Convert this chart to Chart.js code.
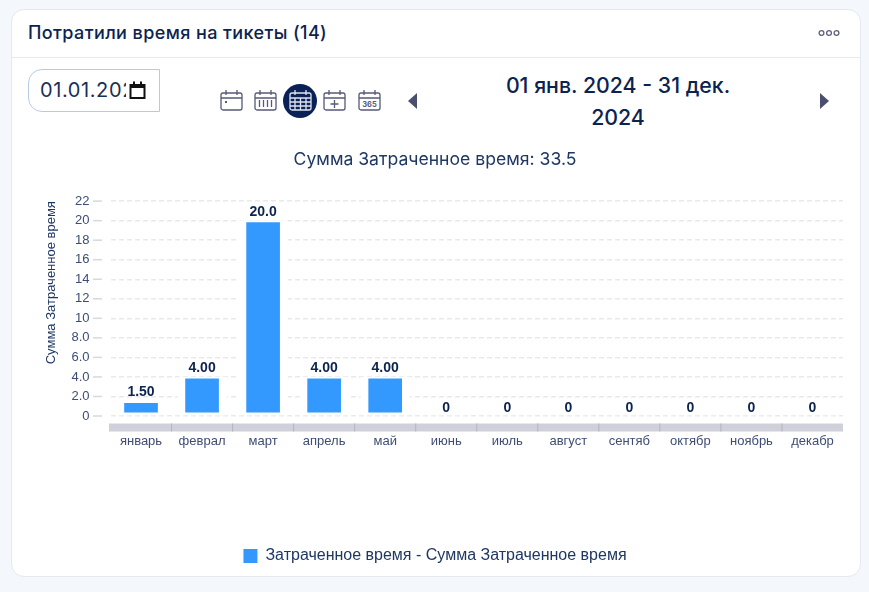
<!DOCTYPE html>
<html lang="ru"><head><meta charset="utf-8">
<script src="https://cdn.jsdelivr.net/npm/chart.js@4"></script>
<style>
html,body{margin:0;padding:0;width:869px;height:592px;overflow:hidden;background:#f4f8fd;font-family:Inter,sans-serif;color:#0c2350}
#card{position:absolute;left:11px;top:9px;width:848px;height:566px;background:#fff;border:1.5px solid #e3e8f1;border-radius:13px}
#head{position:absolute;left:28px;top:22px;font:500 18px/22px Inter;letter-spacing:.4px;color:#0c2350;white-space:nowrap}
#rule{position:absolute;left:12px;top:57px;width:848px;height:1px;background:#e6e9f1}
#dots{position:absolute;left:816px;top:29px}
#date{position:absolute;left:28px;top:69px;width:130px;height:41px;box-sizing:content-box;border:1px solid #b4cbe5;border-radius:14px 0 0 14px;background:#fff}
#date span{position:absolute;left:11px;top:8px;width:86px;overflow:hidden;white-space:nowrap;font:400 20px/24px Inter;letter-spacing:.6px;color:#1b2f55}
#date svg{position:absolute;left:100px;top:10px}
.ic{position:absolute;top:89px}
#circle{position:absolute;left:283px;top:84px;width:34px;height:34px;border-radius:50%;background:#0a2156}
#range{position:absolute;left:430px;top:69px;width:376px;text-align:center;font:500 21.3px/32px Inter;color:#0c2350}
.ar{position:absolute;top:93px}
canvas{position:absolute;left:27px;top:140px}
</style></head><body>
<div id="card"></div>
<div id="head">Потратили время на тикеты (14)</div>
<div id="rule"></div>
<svg id="dots" width="26" height="8" fill="none" stroke="#5b6080" stroke-width="1.3"><circle cx="5.500" cy="4" r="2.400"/><circle cx="13" cy="4" r="2.400"/><circle cx="20.500" cy="4" r="2.400"/></svg>
<div id="date"><span>01.01.2024</span><svg width="18" height="20" viewBox="0 0 18 20"><path d="M1.5 5h14v13h-14z" fill="none" stroke="#111" stroke-width="2"/><rect x="1" y="4" width="15" height="4" fill="#111"/><rect x="4" y="1.5" width="2" height="3" fill="#111"/><rect x="11" y="1.5" width="2" height="3" fill="#111"/></svg></div>
<svg class="ic" style="left:220px" width="24" height="24" fill="none" stroke="#555a78" stroke-width="1.3"><rect x="1" y="4" width="21" height="17" rx="2"/><path d="M1 9h21M6 1v5M17 1v5"/><rect x="5" y="12" width="2" height="2" fill="#555a78" stroke="none"/></svg>
<svg class="ic" style="left:254px" width="24" height="24" fill="none" stroke="#555a78" stroke-width="1.3"><rect x="1" y="4" width="21" height="17" rx="2"/><path d="M1 9h21M6 1v5M17 1v5M5.500 11v7M9.500 11v7M13.500 11v7M17.500 11v7"/></svg>
<div id="circle"></div>
<svg class="ic" style="left:289px" width="24" height="24" fill="none" stroke="#dfe4f0" stroke-width="1.300"><rect x="1" y="4" width="21" height="17" rx="2"/><path d="M1 9h21M6 1v5M17 1v5M1 13h21M1 17h21M6 9v12M11.500 9v12M17 9v12"/></svg>
<svg class="ic" style="left:323px" width="24" height="24" fill="none" stroke="#555a78" stroke-width="1.3"><rect x="1" y="4" width="21" height="17" rx="2"/><path d="M1 9h21M6 1v5M17 1v5M11.500 11v8M7.500 15h8"/></svg>
<svg class="ic" style="left:358px" width="24" height="24" fill="none" stroke="#555a78" stroke-width="1.3"><rect x="1" y="4" width="21" height="17" rx="2"/><path d="M1 9h21M6 1v5M17 1v5"/><text x="11.500" y="18" text-anchor="middle" font-family="Inter" font-size="7.500" font-weight="700" fill="#555a78" stroke="none">365</text></svg>
<svg class="ar" style="left:408px" width="10" height="16"><path d="M9 0v16L0 8z" fill="#4a4f70"/></svg>
<div id="range">01 янв. 2024 - 31 дек.<br>2024</div>
<svg class="ar" style="left:820px" width="10" height="16"><path d="M0 0v16l9-8z" fill="#4a4f70"/></svg>
<canvas id="c" width="833" height="434"></canvas>
<script>
const months = ['январь','феврал','март','апрель','май','июнь','июль','август','сентяб','октябр','ноябрь','декабр'];
const spentTime = [1.5,4,20,4,4,0,0,0,0,0,0,0];
const seriesName = 'Затраченное время - Сумма Затраченное время';
const yAxisTitle = 'Сумма Затраченное время';
const chartTitle = 'Сумма Затраченное время: 33.5';
const yMax = 22, yStep = 2;

const fmtTick = v => v === 0 ? '0' : v.toPrecision(2);
const fmtLabel = v => v === 0 ? '0' : v.toPrecision(3);

const decor = {
  id:'decor',
  afterDraw(ch){
    const {ctx,scales:{x,y},chartArea:a} = ch;
    ctx.save();
    const bandTop = y.getPixelForValue(0)+7.5;
    ctx.fillStyle='#d0d0da';
    ctx.fillRect(a.left-1.5,bandTop,a.right-a.left+1.5,8);
    ctx.fillStyle='#b4b4c2';
    for(let i=1;i<months.length;i++){
      const px=(x.getPixelForValue(i-1)+x.getPixelForValue(i))/2;
      ctx.fillRect(px-.5,bandTop,1,8);
    }
    ctx.fillStyle='#d8d8de';
    y.ticks.forEach(t=>ctx.fillRect(a.left-17.5,y.getPixelForValue(t.value)-.75,9,1.5));
    ctx.fillStyle='#0c2350';
    ctx.font='bold 14px "Liberation Sans"';
    ctx.textAlign='center';ctx.textBaseline='alphabetic';
    ch.getDatasetMeta(0).data.forEach((b,i)=>{
      const v=spentTime[i];
      ctx.fillText(fmtLabel(v),b.x,v===0?y.getPixelForValue(0)-4.5:b.y-5);
    });
    ctx.restore();
  }
};

new Chart(document.getElementById('c'),{
  type:'bar',
  data:{labels:months,datasets:[{
    label:seriesName,data:spentTime,
    backgroundColor:c=>c.raw===0?'#ffffff':'#3399ff',
    borderColor:'#ffffff',
    borderWidth:{top:2,bottom:3,left:8,right:8},
    borderSkipped:false,
    barThickness:49,
    minBarLength:6
  }]},
  plugins:[decor],
  options:{
    responsive:false,animation:false,
    layout:{padding:{left:0,right:17,top:0,bottom:0}},
    plugins:{
      tooltip:{enabled:false},
      title:{display:true,text:chartTitle,color:'#1f3763',font:{family:'Inter',size:17.6,weight:'400'},padding:{top:9,bottom:31}},
      legend:{position:'bottom',labels:{
        color:'#1f3763',font:{family:'"Liberation Sans"',size:16},boxWidth:14,boxHeight:14,padding:10,
        generateLabels:()=>[{text:seriesName,fillStyle:'#3399ff',strokeStyle:'#3399ff',lineWidth:0,datasetIndex:0,fontColor:'#1f3763'}]
      }}
    },
    scales:{
      x:{
        grid:{display:false},border:{display:false},
        afterFit(s){s.height=122;},
        ticks:{autoSkip:false,maxRotation:0,color:'#3d4d73',font:{family:'"Liberation Sans"',size:13},padding:10}
      },
      y:{
        min:0,max:yMax,
        afterFit(s){s.width=83.5;},
        grid:{color:'#e9e9ec',lineWidth:1.5,drawTicks:false},
        border:{display:false,dash:[5,3]},
        ticks:{stepSize:yStep,color:'#3d4d73',font:{family:'"Liberation Sans"',size:13},padding:21,callback:fmtTick},
        title:{display:true,text:yAxisTitle,align:'end',color:'#1f3763',font:{family:'"Liberation Sans"',size:13},padding:{top:17,bottom:0}}
      }
    }
  }
});
</script>
</body></html>
